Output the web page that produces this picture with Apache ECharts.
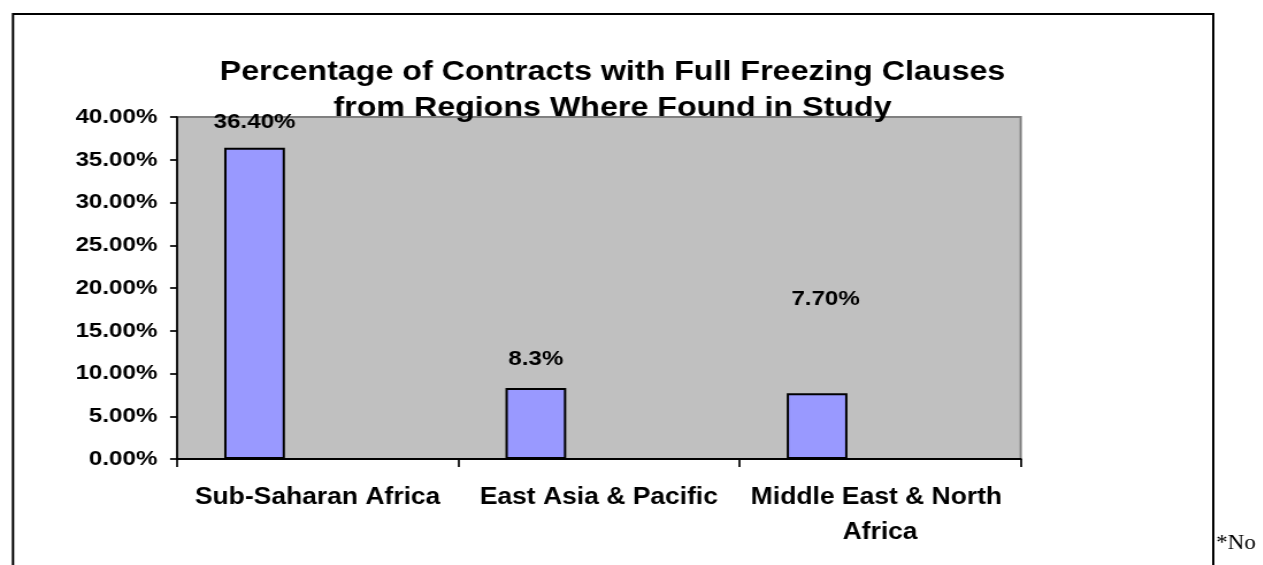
<!DOCTYPE html>
<html>
<head>
<meta charset="utf-8">
<script src="https://cdn.jsdelivr.net/npm/echarts@6/dist/echarts.min.js"></script>
<style>
  html, body { margin: 0; padding: 0; background: #ffffff; overflow: hidden; }
  #wrap { width: 1263px; height: 565px; overflow: hidden; position: relative; }
  #chart { width: 1098.3px; height: 565px; transform: scaleX(1.15); transform-origin: 0 0; }
</style>
</head>
<body>
<div id="wrap"><div id="chart"></div></div>
<script>
// ---- data ----
var categories = ['Sub-Saharan Africa', 'East Asia & Pacific', 'Middle East & North Africa'];
var values = [0.364, 0.083, 0.077];
var valueLabels = ['36.40%', '8.3%', '7.70%'];
var yTickValues = [0, 0.05, 0.10, 0.15, 0.20, 0.25, 0.30, 0.35, 0.40];
var titleLines = ['Percentage of Contracts with Full Freezing Clauses', 'from Regions Where Found in Study'];
var captionText = 'Figure 3: Percentage of Contracts with Full Freezing Clauses, by Region';
var noteText = '*No';

// ---- styling (label nudges as placed in the original) ----
var labelOffsets = [[0, -15], [0, -18], [7.4, -83]];

var sans = "'Liberation Sans', Arial, sans-serif";
var serif = "'Liberation Serif', 'Times New Roman', serif";

var chart = echarts.init(document.getElementById('chart'));

var mainData = values.map(function (v, i) {
  return {
    value: v,
    label: { offset: labelOffsets[i] }
  };
});

var option = {
  animation: false,
  backgroundColor: '#ffffff',
  title: {
    text: titleLines.join('\n'),
    left: 532.6,
    top: 54,
    padding: 0,
    textAlign: 'center',
    textStyle: {
      fontFamily: sans, fontSize: 28, fontWeight: 'bold', color: '#000', lineHeight: 36
    }
  },
  grid: {
    left: 153.9, right: 210.4, top: 117, bottom: 106,
    show: true, backgroundColor: '#C0C0C0', borderColor: '#808080', borderWidth: 2
  },
  xAxis: {
    type: 'category',
    data: categories,
    axisLine: { show: true, lineStyle: { color: '#000', width: 2 } },
    axisTick: { show: true, length: 8, lineStyle: { color: '#000', width: 1.7 } },
    axisLabel: {
      interval: 0, margin: 21, color: '#000', fontFamily: sans, fontWeight: 'bold',
      fontSize: 23, lineHeight: 35, width: 240, overflow: 'break'
    },
    splitLine: { show: false }
  },
  yAxis: {
    type: 'value',
    min: yTickValues[0],
    max: yTickValues[yTickValues.length - 1],
    interval: 0.05,
    axisLine: { show: true, lineStyle: { color: '#000', width: 1.7 } },
    axisTick: { show: true, length: 6, lineStyle: { color: '#000', width: 1.7 } },
    axisLabel: {
      margin: 17, color: '#000', fontFamily: sans, fontWeight: 'bold', fontSize: 21,
      formatter: function (v) { return (v * 100).toFixed(2) + '%'; }
    },
    splitLine: { show: false }
  },
  series: [
    {
      type: 'bar',
      data: mainData,
      barWidth: 52.8,
      barGap: '3.8%',
      itemStyle: { color: '#9999FF', borderColor: '#000', borderWidth: 2 },
      label: {
        show: true, position: 'top', distance: 0,
        color: '#000', fontFamily: sans, fontWeight: 'bold', fontSize: 21,
        formatter: function (p) { return valueLabels[p.dataIndex]; }
      }
    },
    { type: 'bar', data: categories.map(function () { return null; }), barWidth: 52.8, barGap: '3.8%' },
    { type: 'bar', data: categories.map(function () { return null; }), barWidth: 52.8, barGap: '3.8%' }
  ],
  graphic: [
    {
      type: 'polyline', silent: true,
      shape: { points: [[11.3, 565], [11.3, 14], [1055, 14], [1055, 565]] },
      style: { stroke: '#000', lineWidth: 2, fill: null }
    },
    {
      type: 'text', silent: true, x: 17, y: -23.5,
      style: { text: captionText, fontFamily: serif, fontWeight: 'bold', fontSize: 21, fill: '#000', verticalAlign: 'top' }
    },
    {
      type: 'text', silent: true, x: 1057.5, y: 534,
      style: { text: noteText, fontFamily: serif, fontSize: 20, fill: '#000', verticalAlign: 'top' }
    }
  ]
};

chart.setOption(option);
</script>
</body>
</html>
